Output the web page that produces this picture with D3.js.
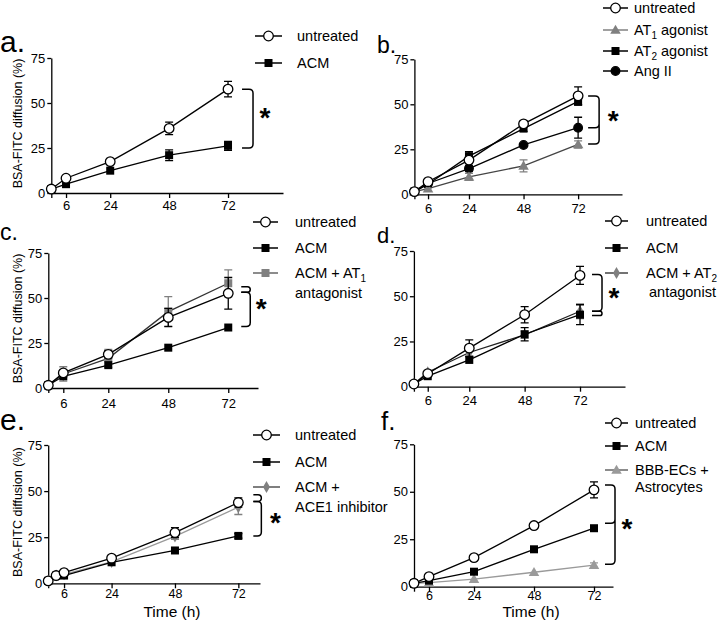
<!DOCTYPE html>
<html><head><meta charset="utf-8">
<script src="https://cdn.jsdelivr.net/npm/d3@7"></script>
<style>body{margin:0;background:#fff}svg text{font-family:"Liberation Sans",Arial,sans-serif}</style>
</head><body>
<svg id="chart" width="720" height="623"></svg>
<script>
// ---------- DATA ----------
const times = [0, 6, 24, 48, 72];
const timesE = [0, 3, 6, 24, 48, 72];
const xTickValues = [0, 6, 24, 48, 72];
const xTickLabels = ["", "6", "24", "48", "72"];
const yTickValues = [0, 25, 50, 75];
const panelLetters = ["a.", "b.", "c.", "d.", "e.", "f."];
const yAxisTitle = "BSA-FITC diffusion (%)";
const xAxisTitle = "Time (h)";

// panel a
const aUntreated = [2.2, 8.2, 17.4, 35.9, 57.7];
const aUntreatedErr = [0.4, 1.0, 1.0, 3.5, 4.3];
const aACM = [2.2, 4.9, 12.4, 21.0, 26.2];
const aACMErr = [0.4, 0.7, 0.8, 3.0, 2.5];
// panel b
const bUntreated = [1.5, 7.0, 19.0, 39.1, 54.7];
const bUntreatedErr = [0.4, 1.0, 2.0, 1.5, 5.0];
const bAT1 = [1.5, 3.2, 9.7, 15.8, 27.7];
const bAT1Err = [0.4, 1.0, 2.0, 3.3, 2.0];
const bAT2 = [1.5, 5.6, 21.2, 36.5, 51.6];
const bAT2Err = [0.4, 1.0, 2.5, 1.5, 2.0];
const bAngII = [1.5, 6.0, 14.3, 27.4, 37.0];
const bAngIIErr = [0.4, 1.0, 1.5, 1.0, 5.8];
// panel c
const cUntreated = [1.5, 8.4, 18.7, 39.2, 52.6];
const cUntreatedErr = [0.4, 1.0, 2.0, 5.0, 8.8];
const cACM = [1.5, 6.5, 12.7, 22.4, 33.6];
const cACMErr = [0.4, 0.8, 1.0, 0.8, 1.0];
const cACMAT1 = [1.5, 7.8, 16.5, 42.4, 58.2];
const cACMAT1Err = [0.4, 4.0, 5.0, 8.4, 7.4];
// panel d
const dUntreated = [1.5, 7.2, 21.3, 39.8, 61.5];
const dUntreatedErr = [0.4, 1.0, 4.6, 4.5, 5.0];
const dACM = [1.5, 5.8, 14.8, 29.0, 39.8];
const dACMErr = [0.4, 0.8, 1.0, 3.7, 5.5];
const dACMAT2 = [1.5, 8.0, 18.9, 28.7, 41.7];
const dACMAT2Err = [0.4, 1.0, 2.0, 2.0, 4.0];
// panel e
const eUntreated = [1.3, 4.2, 5.8, 13.6, 27.5, 43.8];
const eUntreatedErr = [0.3, 0.5, 0.8, 1.0, 2.7, 2.5];
const eACM = [1.3, 4.2, 4.2, 11.4, 17.8, 25.7];
const eACMErr = [0.3, 0.5, 0.6, 0.8, 1.0, 1.2];
const eACE1 = [1.3, 4.2, 4.9, 11.6, 25.4, 41.3];
const eACE1Err = [0.3, 0.5, 0.6, 0.8, 1.5, 4.0];
// panel f
const fUntreated = [1.8, 5.3, 15.3, 32.2, 51.0];
const fUntreatedErr = [0.3, 0.8, 1.5, 1.3, 4.2];
const fACM = [1.8, 3.2, 7.9, 19.7, 30.8];
const fACMErr = [0.3, 0.5, 0.8, 0.8, 1.0];
const fBBB = [1.8, 2.1, 4.0, 7.6, 11.4];
const fBBBErr = [0.3, 0.4, 0.5, 0.6, 1.2];

// significance brackets (values on y scale): [top, bottom] or [top, mid, bottom]
const bracketsA = [[57.7, 25.0]];
const bracketsB = [[54.6, 37.0, 27.9]];
const bracketsC = [[56.3, 53.2], [53.2, 34.1]];
const bracketsD = [[62.0, 41.7], [41.7, 39.3]];
const bracketsE = [[48.0, 44.4], [44.4, 25.7]];
const bracketsF = [[53.6, 33.4, 11.8]];
const asteriskY = [45, 44, 47, 52.5, 36, 33.4];

// ---------- STYLES ----------
const GREY = "#808080", LGREY = "#9a9a9a";
const mk = {
  open:   {type: "circle", fill: "#fff", stroke: "#000"},
  dot:    {type: "circle", fill: "#000", stroke: "#000"},
  sq:     {type: "square", fill: "#000", stroke: "#000"},
  gsq:    {type: "square", fill: GREY, stroke: GREY},
  gtri:   {type: "triangle", fill: GREY, stroke: GREY},
  ltri:   {type: "triangle", fill: LGREY, stroke: LGREY},
  gdia:   {type: "diamond", fill: GREY, stroke: GREY}
};

const panels = [
  { letter: 0, fs: 30, lx: 0, ly: 52, x: [51.3, 283], xmax: 94.4, y: [193, 58], ylab: true, xlab: false, tdy: 0, tfs: 13,
    series: [
      {name: ["untreated"], t: times, v: aUntreated, e: aUntreatedErr, m: mk.open, line: "#000"},
      {name: ["ACM"], t: times, v: aACM, e: aACMErr, m: mk.sq, line: "#000"}],
    leg: {x1: 255, x2: 282, tx: 297, rows: [36, 63]},
    br: bracketsA, bx: [14, 25], ax: 37 },
  { letter: 1, fs: 23, lx: 377, ly: 53, x: [414.4, 622], xmax: 91.3, y: [194.3, 59.3], ylab: false, xlab: false, tdy: 1, tfs: 13,
    series: [
      {name: ["untreated"], t: times, v: bUntreated, e: bUntreatedErr, m: mk.open, line: "#000"},
      {name: ["AT", "1", " agonist"], t: times, v: bAT1, e: bAT1Err, m: mk.gtri, line: "#444", legLine: GREY},
      {name: ["AT", "2", " agonist"], t: times, v: bAT2, e: bAT2Err, m: mk.sq, line: "#000"},
      {name: ["Ang II"], t: times, v: bAngII, e: bAngIIErr, m: mk.dot, line: "#000"}],
    leg: {x1: 603, x2: 628, tx: 634, rows: [8, 30, 51, 71]},
    br: bracketsB, bx: [10, 21], ax: 35 },
  { letter: 2, fs: 23, lx: 0, ly: 240, x: [48.3, 258], xmax: 83.9, y: [388, 253], ylab: true, xlab: false, tdy: 3, tfs: 13,
    series: [
      {name: ["untreated"], t: times, v: cUntreated, e: cUntreatedErr, m: mk.open, line: "#000"},
      {name: ["ACM"], t: times, v: cACM, e: cACMErr, m: mk.sq, line: "#000"},
      {name: ["ACM + AT", "1"], name2: "antagonist", t: times, v: cACMAT1, e: cACMAT1Err, m: mk.gsq, line: "#333", legLine: "#666"}],
    leg: {x1: 253, x2: 278, tx: 295, rows: [222, 248, 273], row2: 293, tx2: 295},
    br: bracketsC, bx: [13, 22], ax: 33 },
  { letter: 3, fs: 22, lx: 377, ly: 243, x: [413.9, 625], xmax: 91.5, y: [386.7, 251], ylab: false, xlab: false, tdy: 1, tfs: 13,
    series: [
      {name: ["untreated"], t: times, v: dUntreated, e: dUntreatedErr, m: mk.open, line: "#000"},
      {name: ["ACM"], t: times, v: dACM, e: dACMErr, m: mk.sq, line: "#000"},
      {name: ["ACM + AT", "2"], name2: "antagonist", t: times, v: dACMAT2, e: dACMAT2Err, m: mk.gdia, line: "#222", legLine: "#444"}],
    leg: {x1: 605, x2: 628, tx: 646, rows: [221, 248, 273], row2: 292, tx2: 649},
    br: bracketsD, bx: [12, 22], ax: 34 },
  { letter: 4, fs: 30, lx: 0, ly: 430, x: [48.2, 260], xmax: 80.2, y: [583.3, 445], ylab: true, xlab: true, tdy: -2, tfs: 12.5,
    series: [
      {name: ["untreated"], t: timesE, v: eUntreated, e: eUntreatedErr, m: mk.open, line: "#000"},
      {name: ["ACM"], t: timesE, v: eACM, e: eACMErr, m: mk.sq, line: "#000"},
      {name: ["ACM +"], name2: "ACE1 inhibitor", t: timesE, v: eACE1, e: eACE1Err, m: mk.gdia, line: LGREY, legLine: "#555"}],
    leg: {x1: 253, x2: 280, tx: 295, rows: [435, 462, 487], row2: 507, tx2: 295},
    br: bracketsE, bx: [15, 23], ax: 37 },
  { letter: 5, fs: 26, lx: 381, ly: 430, x: [414, 613], xmax: 79.6, y: [586.7, 444.3], ylab: false, xlab: true, tdy: -4, tfs: 12.5,
    series: [
      {name: ["untreated"], t: times, v: fUntreated, e: fUntreatedErr, m: mk.open, line: "#000"},
      {name: ["ACM"], t: times, v: fACM, e: fACMErr, m: mk.sq, line: "#000"},
      {name: ["BBB-ECs +"], name2: "Astrocytes", t: times, v: fBBB, e: fBBBErr, m: mk.ltri, line: LGREY, legLine: "#666"}],
    leg: {x1: 605, x2: 628, tx: 635, rows: [423, 446, 470], row2: 487, tx2: 635},
    br: bracketsF, bx: [11, 21], ax: 33 }
];

const svg = d3.select("#chart");

function drawMarker(g, m, cx, cy) {
  if (m.type === "circle") {
    g.append("circle").attr("cx", cx).attr("cy", cy).attr("r", m.fill === "#fff" ? 4.8 : 4.3)
      .attr("fill", m.fill).attr("stroke", m.stroke).attr("stroke-width", 1.3);
  } else if (m.type === "square") {
    g.append("rect").attr("x", cx - 4).attr("y", cy - 4).attr("width", 8).attr("height", 8)
      .attr("fill", m.fill);
  } else if (m.type === "triangle") {
    g.append("path").attr("d", d3.symbol(d3.symbolTriangle, 48)())
      .attr("transform", `translate(${cx},${cy + 0.8})`).attr("fill", m.fill);
  } else if (m.type === "diamond") {
    g.append("path").attr("d", d3.symbol(d3.symbolDiamond, 42)())
      .attr("transform", `translate(${cx},${cy})`).attr("fill", m.fill);
  }
}

function bracePath(xl, xr, yt, yb) {
  const r = Math.min(4, (yb - yt) / 2);
  return `M${xl},${yt} H${xr - r} Q${xr},${yt} ${xr},${yt + r} V${yb - r} Q${xr},${yb} ${xr - r},${yb} H${xl}`;
}

panels.forEach((p, pi) => {
  const g = svg.append("g");
  const x = d3.scaleLinear().domain([0, p.xmax]).range(p.x);
  const y = d3.scaleLinear().domain([0, 75]).range(p.y);

  // axes
  const ya = g.append("g").attr("transform", `translate(${p.x[0]},0)`)
    .call(d3.axisLeft(y).tickValues(yTickValues).tickSize(4).tickSizeOuter(0).tickPadding(2));
  const xa = g.append("g").attr("transform", `translate(0,${p.y[0]})`)
    .call(d3.axisBottom(x).tickValues(xTickValues).tickFormat((d, i) => xTickLabels[i])
      .tickSize(5).tickSizeOuter(0).tickPadding(3 + p.tdy));
  [ya, xa].forEach(a => {
    a.selectAll("path.domain").attr("stroke", "#000").attr("stroke-width", 1.3);
    a.selectAll(".tick line").attr("stroke", "#000").attr("stroke-width", 1.3);
    a.selectAll(".tick text").attr("fill", "#000").style("font-size", "13px");
  });
  xa.selectAll(".tick text").style("font-size", p.tfs + "px");

  // panel letter
  g.append("text").attr("x", p.lx).attr("y", p.ly).text(panelLetters[p.letter])
    .style("font-size", p.fs + "px").attr("fill", "#000");

  if (p.ylab) {
    const cy = (p.y[0] + p.y[1]) / 2 - 2;
    g.append("text").attr("transform", `translate(22,${cy}) rotate(-90)`).attr("text-anchor", "middle")
      .style("font-size", "12.5px").text(yAxisTitle);
  }
  if (p.xlab) {
    g.append("text").attr("x", x(48) - 3).attr("y", 617).attr("text-anchor", "middle")
      .style("font-size", "15.5px").text(xAxisTitle);
  }

  // series (drawn last-first so the first series is on top)
  const line = d3.line().x(d => x(d[0])).y(d => y(d[1]));
  p.series.slice().reverse().forEach(s => {
    const pts = s.t.map((t, i) => [t, s.v[i], s.e[i]]);
    const sg = g.append("g");
    sg.append("path").attr("d", line(pts)).attr("fill", "none").attr("stroke", s.line).attr("stroke-width", 1.3);
    const ec = s.m.fill === "#fff" ? "#000" : s.m.fill;
    pts.forEach(d => {
      if (d[2] < 1.2) return;
      const cx = x(d[0]), y1 = y(d[1] + d[2]), y2 = y(d[1] - d[2]);
      sg.append("path").attr("d", `M${cx},${y1} V${y2} M${cx - 4},${y1} H${cx + 4} M${cx - 4},${y2} H${cx + 4}`)
        .attr("stroke", ec).attr("stroke-width", 1.3).attr("fill", "none");
    });
    pts.forEach(d => drawMarker(sg, s.m, x(d[0]), y(d[1])));
  });

  // legend
  p.series.forEach((s, i) => {
    const ry = p.leg.rows[i];
    g.append("line").attr("x1", p.leg.x1).attr("x2", p.leg.x2).attr("y1", ry).attr("y2", ry)
      .attr("stroke", s.legLine || s.line).attr("stroke-width", 1.5);
    drawMarker(g, s.m, (p.leg.x1 + p.leg.x2) / 2, ry);
    const t = g.append("text").attr("x", p.leg.tx).attr("y", ry).attr("dy", "0.36em").style("font-size", "14.5px");
    t.append("tspan").text(s.name[0]);
    if (s.name.length > 1) {
      t.append("tspan").attr("dy", "4").style("font-size", "10px").text(s.name[1]);
      if (s.name.length > 2) t.append("tspan").attr("dy", "-4").text(s.name[2]);
    }
    if (s.name2) {
      g.append("text").attr("x", p.leg.tx2).attr("y", p.leg.row2).attr("dy", "0.36em")
        .style("font-size", "14.5px").text(s.name2);
    }
  });

  // brackets
  const x72 = x(72);
  const xl = x72 + p.bx[0], xr = x72 + p.bx[1];
  p.br.forEach(b => {
    const yt = y(b[0]), yb = y(b[b.length - 1]);
    let d = bracePath(xl, xr, yt, yb);
    if (b.length === 3) {
      const ym = y(b[1]);
      d += ` M${xr},${ym - 4} Q${xr},${ym} ${xr - 4},${ym} H${xl}`;
    }
    g.append("path").attr("d", d).attr("fill", "none").attr("stroke", "#000").attr("stroke-width", 1.5);
  });
  g.append("text").attr("x", x72 + p.ax).attr("y", y(asteriskY[pi]) + 15).attr("text-anchor", "middle")
    .style("font-size", "28px").style("font-weight", "bold").text("*");
});
</script>
</body></html>
